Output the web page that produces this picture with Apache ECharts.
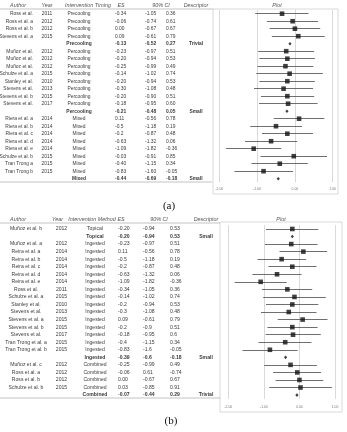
<!DOCTYPE html>
<html>
<head>
<meta charset="utf-8">
<script src="https://cdn.jsdelivr.net/npm/echarts@6/dist/echarts.min.js"></script>
<style>
  html, body { margin: 0; padding: 0; background: #fff; }
  #chart { width: 347px; height: 432px; }
</style>
</head>
<body>
<div id="chart"></div>
<script>
// panel (a): intervention timing
const authorsA = ["Ross et al.", "Ross et al. a", "Ross et al. b", "Stevens et al. a", "",
  "Muñoz et al.", "Muñoz et al.", "Muñoz et al.", "Schulze et al. a", "Stanley et al.", "Stevens et al.", "Stevens et al. b", "Stevens et al.", "",
  "Riera et al. a", "Riera et al. b", "Riera et al. c", "Riera et al. d", "Riera et al. e", "Schulze et al. b", "Tran Trong a", "Tran Trong b", ""];
const yearsA = ["2011", "2012", "2012", "2015", "",
  "2012", "2012", "2012", "2015", "2010", "2013", "2015", "2017", "",
  "2014", "2014", "2014", "2014", "2014", "2015", "2015", "2015", ""];
const timingA = ["Precooling", "Precooling", "Precooling", "Precooling", "Precooling",
  "Percooling", "Percooling", "Percooling", "Percooling", "Percooling", "Percooling", "Percooling", "Percooling", "Percooling",
  "Mixed", "Mixed", "Mixed", "Mixed", "Mixed", "Mixed", "Mixed", "Mixed", "Mixed"];
const esA = ["-0.34", "-0.06", "0.00", "0.09", "-0.13",
  "-0.23", "-0.20", "-0.25", "-0.14", "-0.20", "-0.30", "-0.20", "-0.18", "-0.21",
  "0.11", "-0.5", "-0.2", "-0.63", "-1.09", "-0.03", "-0.40", "-0.83", "-0.44"];
const lowA = ["-1.05", "-0.74", "-0.67", "-0.61", "-0.52",
  "-0.97", "-0.94", "-0.99", "-1.02", "-0.94", "-1.08", "-0.90", "-0.95", "-0.48",
  "-0.56", "-1.18", "-0.87", "-1.32", "-1.82", "-0.91", "-1.15", "-1.60", "-0.69"];
const highA = ["0.36", "0.61", "0.67", "0.79", "0.27",
  "0.51", "0.53", "0.49", "0.74", "0.53", "0.48", "0.51", "0.60", "0.05",
  "0.78", "0.19", "0.48", "0.06", "-0.36", "0.85", "0.34", "-0.05", "-0.18"];
const descA = ["", "", "", "", "Trivial",
  "", "", "", "", "", "", "", "", "Small",
  "", "", "", "", "", "", "", "", "Small"];

// panel (b): intervention method
const authorsB = ["Muñoz et al. b", "",
  "Muñoz et al. a", "Reira et al. a", "Reira et al. b", "Reira et al. c", "Reira et al. d", "Reira et al. e", "Ross et al.", "Schulze et al. a",
  "Stanley et al.", "Stevens et al.", "Stevens et al. a", "Stevens et al. b", "Stevens et al.", "Tran Trong et al. a", "Tran Trong et al. b", "",
  "Muñoz et al. c", "Ross et al. a", "Ross et al. b", "Schulze et al. b", ""];
const yearsB = ["2012", "",
  "2012", "2014", "2014", "2014", "2014", "2014", "2011", "2015",
  "2010", "2013", "2015", "2015", "2017", "2015", "2015", "",
  "2012", "2012", "2012", "2015", ""];
const methodB = ["Topical", "Topical",
  "Ingested", "Ingested", "Ingested", "Ingested", "Ingested", "Ingested", "Ingested", "Ingested",
  "Ingested", "Ingested", "Ingested", "Ingested", "Ingested", "Ingested", "Ingested", "Ingested",
  "Combined", "Combined", "Combined", "Combined", "Combined"];
const esB = ["-0.20", "-0.20",
  "-0.23", "0.11", "-0.5", "-0.2", "-0.63", "-1.09", "-0.34", "-0.14",
  "-0.2", "-0.3", "0.09", "-0.2", "-0.18", "-0.4", "-0.83", "-0.39",
  "-0.25", "-0.06", "0.00", "0.03", "-0.07"];
const lowB = ["-0.94", "-0.94",
  "-0.97", "-0.56", "-1.18", "-0.87", "-1.32", "-1.82", "-1.05", "-1.02",
  "-0.94", "-1.08", "-0.61", "-0.9", "-0.95", "-1.15", "-1.6", "-0.6",
  "-0.99", "0.61", "-0.67", "-0.85", "-0.44"];
const highB = ["0.53", "0.53",
  "0.51", "0.78", "0.19", "0.48", "0.06", "-0.36", "0.36", "0.74",
  "0.53", "0.48", "0.79", "0.51", "0.6", "0.34", "-0.05", "-0.18",
  "0.49", "-0.74", "0.67", "0.91", "0.29"];
const descB = ["", "Small",
  "", "", "", "", "", "", "", "",
  "", "", "", "", "", "", "", "Small",
  "", "", "", "", "Trivial"];

const plotTicks = [-2, -1, 0, 1];

const FONT = "Liberation Sans, Arial, sans-serif";
const TXT = "#3a3a3a";

const chart = echarts.init(document.getElementById("chart"), null, { renderer: "canvas" });

const rowIdx = (arr) => arr.map((_, i) => i);

// table cells, one text per column, y from the category axis
const tableSeries = (gridIdx, cols, fontSize) => ({
  type: "custom",
  xAxisIndex: gridIdx,
  yAxisIndex: gridIdx,
  silent: true,
  data: rowIdx(cols[0].values).map((i) => [0, i]),
  renderItem: (params, api) => {
    const i = api.value(1);
    const y = api.coord([0, i])[1];
    const bold = cols[0].summary[i];
    return {
      type: "group",
      children: cols.map((c) => ({
        type: "text",
        style: {
          x: c.x,
          y: y,
          text: c.values[i],
          align: c.align,
          verticalAlign: "middle",
          fill: TXT,
          font: (bold ? "bold " : "") + fontSize + "px " + FONT,
        },
      })),
    };
  },
});

// CI whiskers for single studies (summary rows get only the diamond)
const ciSeries = (gridIdx, low, high, summary) => ({
  type: "lines",
  coordinateSystem: "cartesian2d",
  xAxisIndex: gridIdx,
  yAxisIndex: gridIdx,
  silent: true,
  z: 3,
  lineStyle: { color: "#4a4a4a", width: 0.8, opacity: 1 },
  data: rowIdx(low)
    .filter((i) => !summary[i])
    .map((i) => ({
      coords: [
        [Math.min(+low[i], +high[i]), i],
        [Math.max(+low[i], +high[i]), i],
      ],
    })),
});

const markerSeries = (gridIdx, es, summary) => ({
  type: "scatter",
  xAxisIndex: gridIdx,
  yAxisIndex: gridIdx,
  silent: true,
  z: 5,
  data: es.map((v, i) => ({
    value: [+v, i],
    symbol: summary[i] ? "diamond" : "rect",
    symbolSize: summary[i] ? [3.2, 3.6] : 4.6,
  })),
  itemStyle: { color: "#111" },
});

const sumA = authorsA.map((a) => a === "");
const sumB = authorsB.map((a) => a === "");

const colsA = [
  { x: 33, align: "right", values: authorsA, summary: sumA },
  { x: 47, align: "center", values: yearsA },
  { x: 79, align: "center", values: timingA },
  { x: 115, align: "left", values: esA },
  { x: 145, align: "left", values: lowA },
  { x: 166, align: "left", values: highA },
  { x: 196, align: "center", values: descA },
];
const colsB = [
  { x: 26, align: "center", values: authorsB, summary: sumB },
  { x: 61.5, align: "center", values: yearsB },
  { x: 95, align: "center", values: methodB },
  { x: 118, align: "left", values: esB },
  { x: 143, align: "left", values: lowB },
  { x: 170, align: "left", values: highB },
  { x: 206, align: "center", values: descB },
];

const rowsA = { top: 9.95, height: 23 * 7.5 };
const rowsB = { top: 225.2, height: 23 * 7.55 };

const tableX = { type: "value", min: 0, max: 347, show: false };
const catY = (n) => ({ type: "category", data: rowIdx(n), inverse: true, show: false });
const plotX = (margin) => ({
  type: "value",
  min: plotTicks[0],
  max: plotTicks[plotTicks.length - 1],
  interval: 1,
  axisLine: { show: false },
  axisTick: { show: false },
  splitLine: { show: true, lineStyle: { color: "#c8c8c8", width: 0.7 } },
  axisLabel: {
    fontSize: 3.4,
    color: "#777",
    margin: margin,
    fontFamily: FONT,
    formatter: (v) => v.toFixed(2),
  },
});

const header = (x, y, text) => ({
  type: "text",
  style: { x, y, text, align: "center", verticalAlign: "middle", fill: "#555", font: "italic 5.4px " + FONT },
});
const hline = (x1, x2, y) => ({
  type: "line",
  shape: { x1, y1: y, x2, y2: y },
  style: { stroke: "#9a9a9a", lineWidth: 0.6 },
});
const box = (x, y, w, h) => ({
  type: "rect",
  shape: { x, y, width: w, height: h },
  style: { fill: "none", stroke: "#c8c8c8", lineWidth: 0.7 },
});
const caption = (x, y, text) => ({
  type: "text",
  style: { x, y, text, align: "center", verticalAlign: "middle", fill: "#111", font: "11px Liberation Serif, Times New Roman, serif" },
});

const option = {
  animation: false,
  grid: [
    { left: 0, width: 347, top: rowsA.top, height: rowsA.height },
    { left: 219.3, width: 113.4, top: rowsA.top, height: rowsA.height },
    { left: 0, width: 347, top: rowsB.top, height: rowsB.height },
    { left: 228.3, width: 106.7, top: rowsB.top, height: rowsB.height },
  ],
  xAxis: [
    Object.assign({ gridIndex: 0 }, tableX),
    Object.assign({ gridIndex: 1 }, plotX(5.5)),
    Object.assign({ gridIndex: 2 }, tableX),
    Object.assign({ gridIndex: 3 }, plotX(6.5)),
  ],
  yAxis: [
    Object.assign({ gridIndex: 0 }, catY(esA)),
    Object.assign({ gridIndex: 1 }, catY(esA)),
    Object.assign({ gridIndex: 2 }, catY(esB)),
    Object.assign({ gridIndex: 3 }, catY(esB)),
  ],
  graphic: [
    box(213, 9, 125, 185),
    box(220, 222, 122, 190),
    hline(0, 213, 9),
    hline(0, 212, 182),
    hline(0, 220, 223),
    hline(0, 220, 398),
    header(18, 5.5, "Author"),
    header(47, 5.5, "Year"),
    header(88, 5.5, "Intervention Timing"),
    header(121, 5.5, "ES"),
    header(161, 5.5, "90% CI"),
    header(196, 5.5, "Descriptor"),
    header(277, 5.5, "Plot"),
    header(18, 219.5, "Author"),
    header(57.5, 219.5, "Year"),
    header(92, 219.5, "Intervention Method"),
    header(121, 219.5, "ES"),
    header(159, 219.5, "90% CI"),
    header(206, 219.5, "Descriptor"),
    header(281, 219.5, "Plot"),
    caption(169, 206, "(a)"),
    caption(171, 421, "(b)"),
  ],
  series: [
    tableSeries(0, colsA, 4.9),
    ciSeries(1, lowA, highA, sumA),
    markerSeries(1, esA, sumA),
    tableSeries(2, colsB, 5.1),
    ciSeries(3, lowB, highB, sumB),
    markerSeries(3, esB, sumB),
  ],
};

chart.setOption(option);
</script>
</body>
</html>
